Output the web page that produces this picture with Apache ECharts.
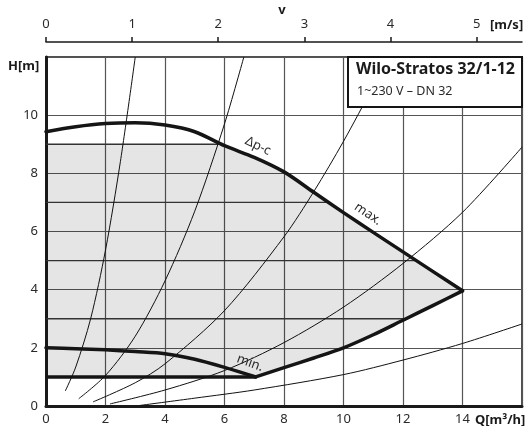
<!DOCTYPE html>
<html><head><meta charset="utf-8">
<script src="https://cdn.jsdelivr.net/npm/echarts@6/dist/echarts.min.js"></script>
<style>html,body{margin:0;padding:0;background:#fff}#c{width:530px;height:426px}</style>
</head><body><div id="c"></div>
<script>
// ---- data ----
const qTicks = [0, 2, 4, 6, 8, 10, 12, 14];
const hTicks = [0, 2, 4, 6, 8, 10];
const vTicks = [0, 1, 2, 3, 4, 5];
const vMax = 5.527; // velocity at Q = 16 m3/h (DN 32)

const maxQ = [0, 1, 2, 3, 4, 5, 6, 7, 8, 9, 10, 11, 12, 13, 14];
const maxH = [9.43, 9.6, 9.71, 9.74, 9.66, 9.43, 8.95, 8.55, 8.05, 7.35, 6.65, 5.97, 5.3, 4.63, 3.96];

const minQ = [0, 1, 2, 3, 4, 5, 6, 7.05];
const minH = [2.0, 1.97, 1.93, 1.87, 1.8, 1.61, 1.33, 1.0];

const lowQ = [7.05, 8, 9, 10, 11, 12, 13, 14];
const lowH = [1.0, 1.32, 1.65, 2.0, 2.45, 2.95, 3.45, 3.96];

const capH = 9.0;      // upper limit of the shaded field
const capQ = 5.9;      // where the upper limit meets the max curve
const floorH = 1.0;    // lower limit of the shaded field

const innerH   = [1, 3, 5, 7, 9];
const innerEnd = [7.05, 12.1, 12.45, 9.5, 5.9];

const sys1Q = [0.65, 1, 1.5, 2, 2.5, 3.0];
const sys1H = [0.52, 1.34, 3.0, 5.36, 8.4, 12.0];
const sys2Q = [1.1, 2, 3, 4, 5, 6, 6.65];
const sys2H = [0.25, 1.05, 2.4, 4.3, 6.7, 9.7, 12.0];
const sys3Q = [1.58, 3, 4, 6, 8, 9, 10, 11, 11.5];
const sys3H = [0.14, 0.8, 1.45, 3.28, 5.82, 7.37, 9.1, 11.0, 12.0];
const sys4Q = [2.15, 4, 6, 8, 10, 12, 14, 16];
const sys4H = [0.07, 0.55, 1.22, 2.18, 3.4, 4.9, 6.66, 8.9];
const sys5Q = [3.16, 5, 7, 10, 12, 14, 16];
const sys5H = [0.02, 0.27, 0.55, 1.08, 1.58, 2.15, 2.82];

// ---- build ----
const zip = (a, b) => a.map((x, i) => [x, b[i]]);
const maxPts = zip(maxQ, maxH);
const shadeTop = [[0, capH], [capQ, capH]].concat(maxPts.filter(p => p[0] > capQ));
const shadeBottom = zip(lowQ, lowH).reverse().slice(1).concat([[lowQ[0], floorH], [0, floorH]]);
const shadePoly = shadeTop.concat(shadeBottom);

const FONT = 'Noto Sans';
const TXT = '#2a2a2a';

const chart = echarts.init(document.getElementById('c'), null, {renderer: 'canvas'});

function sysSeries(q, h) {
  return {type: 'line', data: zip(q, h), xAxisIndex: 0, yAxisIndex: 0, smooth: 0.3,
    symbol: 'none', lineStyle: {color: '#111', width: 1}, z: 3, silent: true, clip: true};
}
function thickSeries(pts) {
  return {type: 'line', data: pts, xAxisIndex: 0, yAxisIndex: 0, smooth: 0.3,
    symbol: 'none', lineStyle: {color: '#151515', width: 3.5, cap: 'round', join: 'round'}, z: 5, silent: true};
}

chart.setOption({
  animation: false,
  backgroundColor: '#fff',
  textStyle: {fontFamily: FONT},
  grid: {left: 46, right: 8, top: 57, bottom: 20, show: true, borderColor: '#1a1a1a', borderWidth: 1.5, containLabel: false},
  xAxis: [{
    type: 'value', min: 0, max: 16, interval: 2, position: 'bottom',
    axisLine: {show: true, onZero: false, lineStyle: {color: '#1a1a1a', width: 3}},
    axisTick: {show: false},
    axisLabel: {color: TXT, fontSize: 13, fontFamily: FONT, margin: 7,
      formatter: v => (qTicks.indexOf(v) >= 0 ? String(v) : '')},
    splitLine: {show: true, lineStyle: {color: '#555', width: 1.2}}
  }, {
    type: 'value', min: 0, max: vMax, interval: 1, position: 'top', offset: 15,
    axisLine: {show: true, onZero: false, lineStyle: {color: '#1a1a1a', width: 1.5}},
    axisTick: {show: true, length: 5, inside: false, customValues: vTicks, lineStyle: {color: '#1a1a1a', width: 1.5}},
    axisLabel: {color: TXT, fontSize: 13, fontFamily: FONT, margin: 11, customValues: vTicks,
      formatter: v => String(v)},
    splitLine: {show: false}
  }],
  yAxis: [{
    type: 'value', min: 0, max: 12, interval: 2,
    axisLine: {show: true, onZero: false, lineStyle: {color: '#1a1a1a', width: 3}},
    axisTick: {show: false},
    axisLabel: {color: TXT, fontSize: 13, fontFamily: FONT, margin: 8,
      formatter: v => (hTicks.indexOf(v) >= 0 ? String(v) : '')},
    splitLine: {show: true, lineStyle: {color: '#555', width: 1.2}}
  }],
  series: [
    {
      type: 'custom', xAxisIndex: 0, yAxisIndex: 0, data: [[0, 0]], z: 1, silent: true,
      renderItem: function (params, api) {
        const pts = shadePoly.map(p => api.coord(p));
        return {type: 'polygon', shape: {points: pts, smooth: 0}, style: {fill: 'rgba(0,0,0,0.1)', stroke: null}};
      }
    },
    {
      type: 'custom', xAxisIndex: 0, yAxisIndex: 0, data: innerH.map((h, i) => [h, innerEnd[i]]), z: 2, silent: true,
      renderItem: function (params, api) {
        const h = api.value(0), e = api.value(1);
        const a = api.coord([0, h]), b = api.coord([e, h]);
        const thick = h === floorH;
        return {type: 'line', shape: {x1: a[0], y1: a[1], x2: b[0], y2: b[1]},
          style: {stroke: thick ? '#151515' : '#333', lineWidth: thick ? 3.5 : 1.3}};
      }
    },
    sysSeries(sys1Q, sys1H),
    sysSeries(sys2Q, sys2H),
    sysSeries(sys3Q, sys3H),
    sysSeries(sys4Q, sys4H),
    sysSeries(sys5Q, sys5H),
    thickSeries(maxPts),
    thickSeries(zip(minQ, minH)),
    thickSeries(zip(lowQ, lowH))
  ],
  graphic: [
    {type: 'rect', z: 100, shape: {x: 348, y: 57, width: 174, height: 50},
      style: {fill: '#fff', stroke: '#151515', lineWidth: 2}},
    {type: 'text', z: 101, x: 356, y: 61, style: {text: 'Wilo-Stratos 32/1-12', fill: '#1a1a1a',
      font: 'bold 16px "Noto Sans"'}},
    {type: 'text', z: 101, x: 357, y: 85, style: {text: '1~230 V – DN 32', fill: TXT,
      font: '12.5px "Noto Sans"'}},
    {type: 'text', z: 101, x: 282, y: 10, style: {text: 'v', fill: '#1a1a1a', align: 'center', verticalAlign: 'middle',
      font: 'bold 13px "Noto Sans"'}},
    {type: 'text', z: 101, x: 490, y: 25, style: {text: '[m/s]', fill: '#1a1a1a', verticalAlign: 'middle',
      font: 'bold 13px "Noto Sans"'}},
    {type: 'text', z: 101, x: 8, y: 66, style: {text: 'H[m]', fill: '#1a1a1a', verticalAlign: 'middle',
      font: 'bold 13px "Noto Sans"'}},
    {type: 'text', z: 101, x: 475, y: 420, style: {text: 'Q[m³/h]', fill: '#1a1a1a', verticalAlign: 'middle',
      font: 'bold 13px "Noto Sans"'}},
    {type: 'text', z: 101, x: 258, y: 146, rotation: -0.45, style: {text: 'Δp-c', fill: TXT, align: 'center', verticalAlign: 'middle',
      font: '13px "Noto Sans"'}},
    {type: 'text', z: 101, x: 368, y: 214, rotation: -0.6, style: {text: 'max.', fill: TXT, align: 'center', verticalAlign: 'middle',
      font: '13px "Noto Sans"'}},
    {type: 'text', z: 101, x: 250, y: 363, rotation: -0.35, style: {text: 'min.', fill: TXT, align: 'center', verticalAlign: 'middle',
      font: '13px "Noto Sans"'}}
  ]
});
</script>
</body></html>
